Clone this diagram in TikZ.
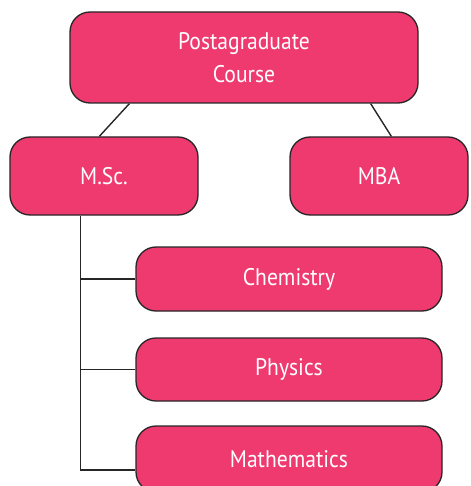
\documentclass[tikz,border=0pt]{standalone}
\usepackage{fontspec}
\setmainfont{PT Sans}[FakeStretch=0.9]
\usetikzlibrary{positioning}
\definecolor{coursepink}{RGB}{239,58,112}
\tikzset{
	course/.style={draw=black!85, line width=1.3pt, fill=coursepink, rounded corners=20pt,
		text=white, font=\fontsize{24}{33}\selectfont, align=center, inner sep=0pt},
	link/.style={draw=black!85, line width=1.4pt}
}

\begin{document}
\begin{tikzpicture}[x=1pt, y=-1pt]
	\useasboundingbox (0,0) rectangle (470,486);
	\node [course, minimum width=348pt, minimum height=91pt] (pg) at (244,57.5) {Postagraduate\\Course};
	\node [course, minimum width=188pt, minimum height=78pt] (msc) at (104,176) {M.Sc.};
	\node [course, minimum width=178pt, minimum height=78pt] (mba) at (379,176) {MBA};
	\node [course, minimum width=306pt, minimum height=64pt] (chem) at (289,279) {Chemistry};
	\node [course, minimum width=306pt, minimum height=63pt] (phys) at (289,369.5) {Physics};
	\node [course, minimum width=306pt, minimum height=66pt] (math) at (289,459) {Mathematics};
	\coordinate (stem) at ([xshift=71pt]msc.south west);
	\coordinate (stemend) at (stem |- 0,470);
	\draw [link] ([xshift=60pt]pg.south west) -- ([xshift=90pt]msc.north west);
	\draw [link] ([xshift=-48pt]pg.south east) -- ([xshift=102pt]mba.north west);
	\draw [link] (stem) -- (stemend) -- (stemend -| math.west);
	\draw [link] (stem |- chem.west) -- (chem.west);
	\draw [link] (stem |- phys.west) -- (phys.west);
\end{tikzpicture}
\end{document}
